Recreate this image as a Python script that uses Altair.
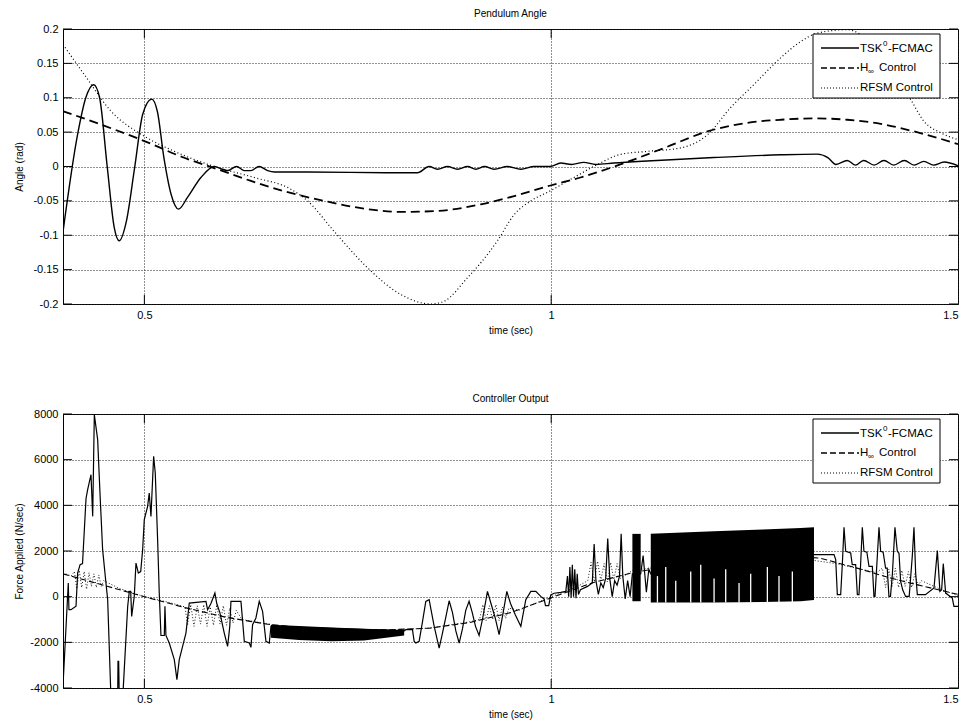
import altair as alt
import pandas as pd

FONT = "Liberation Sans"

# ---------------- Pendulum angle (rad) ----------------
tsk_angle = [(0.400, -0.095), (0.418, 0.047), (0.428, 0.100), (0.4377, 0.119), (0.445, 0.100),
             (0.4545, -0.002), (0.463, -0.089), (0.469, -0.108), (0.478, -0.079), (0.488, -0.002),
             (0.498, 0.076), (0.509, 0.098), (0.516, 0.080), (0.524, 0.013), (0.533, -0.041),
             (0.542, -0.062), (0.553, -0.045), (0.5695, -0.016), (0.586, 0.000), (0.596, -0.004),
             (0.602, -0.006), (0.6133, 0.000), (0.623, -0.006), (0.631, -0.006), (0.641, 0.000),
             (0.6515, -0.006), (0.66, -0.008), (0.70, -0.008), (0.80, -0.009), (0.8357, -0.009),
             (0.85, 0.000), (0.8603, -0.004), (0.8726, 0.000), (0.8849, -0.004), (0.8972, 0.000),
             (0.9074, -0.004), (0.918, 0.000), (0.9299, -0.004), (0.9463, 0.000), (0.9627, -0.004),
             (0.979, 0.000), (0.9983, 0.000), (1.0118, 0.005), (1.025, 0.003), (1.04, 0.006),
             (1.055, 0.003), (1.077, 0.005), (1.118, 0.008), (1.2, 0.013), (1.282, 0.017),
             (1.327, 0.018), (1.34, 0.013), (1.35, 0.003), (1.364, 0.0088), (1.374, 0.002),
             (1.384, 0.0088), (1.397, 0.002), (1.409, 0.0088), (1.421, 0.002), (1.434, 0.0088),
             (1.446, 0.002), (1.458, 0.0075), (1.470, 0.002), (1.483, 0.0065), (1.5, 0.001)]

hinf_angle = [(0.4, 0.0805), (0.4467, 0.061), (0.5, 0.037), (0.549, 0.0127), (0.59, -0.004),
              (0.631, -0.021), (0.672, -0.036), (0.721, -0.050), (0.774, -0.062), (0.815, -0.066),
              (0.856, -0.065), (0.9135, -0.055), (0.9545, -0.043), (0.998, -0.028), (1.036, -0.016),
              (1.085, 0.003), (1.139, 0.027), (1.192, 0.051), (1.241, 0.0635), (1.282, 0.068),
              (1.323, 0.070), (1.364, 0.068), (1.405, 0.062), (1.446, 0.051), (1.5, 0.0326)]

rfsm_angle = [(0.4, 0.1775), (0.426, 0.134), (0.459, 0.0805), (0.5, 0.044), (0.537, 0.022),
              (0.586, 0.0), (0.635, -0.016), (0.68, -0.033), (0.7006, -0.050), (0.733, -0.094),
              (0.774, -0.147), (0.815, -0.186), (0.852, -0.200), (0.8684, -0.196), (0.897, -0.162),
              (0.9135, -0.140), (0.934, -0.108), (0.9545, -0.070), (0.975, -0.050), (0.998, -0.036),
              (1.028, -0.016), (1.057, 0.003), (1.085, 0.0176), (1.118, 0.022), (1.159, 0.027),
              (1.192, 0.046), (1.22, 0.085), (1.249, 0.119), (1.282, 0.158), (1.307, 0.182),
              (1.327, 0.194), (1.364, 0.199), (1.405, 0.163), (1.4418, 0.0975), (1.458, 0.066),
              (1.479, 0.049), (1.5, 0.039)]

# ---------------- Controller output (N/sec) ----------------
tsk_force = [(0.400, -3900), (0.4065, 600), (0.4073, -570), (0.4098, -570), (0.416, -420),
             (0.418, 1034), (0.421, 1400), (0.424, 1450), (0.4283, 4300), (0.4303, 4686),
             (0.4344, 5343), (0.4365, 3517), (0.4385, 7971), (0.4426, 6877), (0.4455, 4500),
             (0.4487, 2058), (0.4528, 600), (0.4549, -131), (0.459, -4500), (0.4672, -4500),
             (0.4676, -2834), (0.4684, -2834), (0.4692, -4500), (0.4733, -4500), (0.4795, -425),
             (0.4815, 232), (0.4832, 232), (0.4844, -863), (0.4876, 13), (0.4897, 1472),
             (0.4926, 1034), (0.4955, 1100), (0.4979, 2058), (0.4999, 3372), (0.504, 3955),
             (0.506, 4539), (0.5081, 3517), (0.5114, 6145), (0.5134, 5414), (0.5163, 2496),
             (0.5183, 158), (0.5204, -1700), (0.5245, -1700), (0.5253, -425), (0.5265, -1700),
             (0.5306, -2030), (0.5368, -2759), (0.54, -3635), (0.5429, -2759), (0.547, -2177),
             (0.5511, -1594), (0.5552, -280), (0.5757, -206), (0.5777, -570), (0.5818, -300),
             (0.5867, 158), (0.589, -300), (0.5928, -700), (0.5982, -1594), (0.6023, -2177),
             (0.605, -1300), (0.6064, -206), (0.6187, -206), (0.6208, -1080), (0.6228, -1958),
             (0.629, -2030), (0.631, -2220), (0.633, -1226), (0.6371, -934), (0.6412, -206),
             (0.6453, -643), (0.6474, -1300), (0.6494, -1958), (0.6535, -2030), (0.6556, -1300),
             (0.8193, -1500), (0.8213, -1445), (0.8295, -1445), (0.8316, -1958), (0.8337, -2030),
             (0.8377, -1958), (0.8418, -1100), (0.8459, -206), (0.85, -131), (0.8562, -1300),
             (0.8623, -2250), (0.8664, -1600), (0.8705, -900), (0.8746, -180), (0.8787, -700),
             (0.8828, -1500), (0.8869, -2030), (0.891, -1400), (0.895, -600), (0.8991, -200),
             (0.903, -700), (0.907, -1300), (0.9114, -1700), (0.9155, -1000), (0.9217, 232),
             (0.926, -300), (0.931, -900), (0.936, -1664), (0.9405, -800), (0.9455, 232),
             (0.95, -300), (0.956, -800), (0.9627, -1300), (0.9688, -131), (0.975, 232),
             (0.9811, 232), (0.9872, 13), (0.9913, -100), (0.993, -390), (0.997, -390),
             (0.9995, 80), (1.0036, 150), (1.0118, 190), (1.018, 232), (1.02, 900),
             (1.0215, 0), (1.023, 1300), (1.0245, -50), (1.026, 1400), (1.0275, 0),
             (1.029, 1200), (1.0305, -70), (1.032, 1000), (1.0335, 100), (1.036, 300),
             (1.0446, 450), (1.0505, 600), (1.0528, 2300), (1.055, 700), (1.058, 100),
             (1.061, 600), (1.064, 400), (1.067, 800), (1.0695, 2550), (1.072, 800),
             (1.075, 0), (1.078, 700), (1.081, 500), (1.084, 900), (1.086, 2750),
             (1.088, 900), (1.091, -100), (1.094, 700), (1.097, 0), (1.0998, 1000),
             (1.11, 1000), (1.113, 1800), (1.117, 200), (1.12, 1200), (1.1224, 1000),
             (1.323, 1840), (1.3476, 1840), (1.3497, 1620), (1.3517, 88), (1.3558, 88),
             (1.3578, 1400), (1.3599, 3035), (1.362, 1985), (1.3681, 1910), (1.37, 1402),
             (1.3742, 1402), (1.3763, 88), (1.3783, 88), (1.3803, 1402), (1.3824, 3035),
             (1.3844, 1985), (1.388, 1950), (1.3906, 1327), (1.3947, 1327), (1.3967, 13),
             (1.398, 13), (1.4, 1253), (1.4029, 3035), (1.4049, 1985), (1.408, 1950),
             (1.411, 1253), (1.413, 1253), (1.4151, 13), (1.417, 13), (1.4193, 963),
             (1.4225, 3035), (1.4254, 1985), (1.4275, 1900), (1.4295, 670), (1.432, 300),
             (1.4356, 13), (1.44, 13), (1.4438, 1765), (1.4459, 3035), (1.448, 1000),
             (1.45, 88), (1.46, 88), (1.4705, 377), (1.4746, 2015), (1.4778, 232),
             (1.4799, 300), (1.4819, 1445), (1.4848, 158), (1.493, -61), (1.495, -425),
             (1.5, -425)]

# dense chattering blocks of the TSK output: (block, time, low, high)
tsk_chatter = [("A", 0.6556, -1800, -1226), ("A", 0.69, -1900, -1280), ("A", 0.73, -1958, -1350),
               ("A", 0.77, -1920, -1400), ("A", 0.8193, -1700, -1460),
               ("C", 1.0998, -200, 2750), ("C", 1.11, -200, 2750),
               ("D", 1.1224, -250, 2760), ("D", 1.2, -250, 2860), ("D", 1.26, -230, 2940),
               ("D", 1.3066, -200, 3006), ("D", 1.323, -150, 3035)]

# white gaps inside the large block: (time, top of gap)
chatter_gaps = [(1.1306, 900), (1.1408, 1300), (1.1531, 700), (1.1715, 1100), (1.1838, 1400),
                (1.2002, 800), (1.2145, 1200), (1.2309, 600), (1.2452, 1000), (1.2657, 1300),
                (1.28, 900), (1.2964, 1100)]

hinf_force = [(0.4, 1000), (0.45, 500), (0.5, 0), (0.55, -480), (0.6, -900), (0.65, -1200),
              (0.7, -1380), (0.75, -1460), (0.8, -1450), (0.85, -1380), (0.9, -1130), (0.95, -700),
              (1.0, -50), (1.05, 600), (1.1, 1050), (1.15, 1350), (1.2, 1550), (1.25, 1680),
              (1.3, 1750), (1.33, 1690), (1.376, 1250), (1.417, 815), (1.458, 450), (1.5, 100)]

rfsm_force = [(0.4, 1050), (0.41, 900), (0.414, 1100), (0.417, 350), (0.42, 1150), (0.423, 400),
              (0.426, 1100), (0.429, 330), (0.432, 1050), (0.435, 450), (0.438, 1000), (0.441, 400),
              (0.444, 950), (0.447, 450), (0.45, 700), (0.47, 350), (0.5, 0), (0.53, -250),
              (0.55, -450), (0.553, -1250), (0.557, -350), (0.561, -1300), (0.565, -400),
              (0.569, -1200), (0.573, -350), (0.577, -1300), (0.581, -450), (0.585, -1250),
              (0.589, -350), (0.593, -1200), (0.597, -400), (0.601, -1250), (0.605, -500),
              (0.609, -1150), (0.613, -600), (0.62, -1000), (0.66, -1250), (0.7, -1400),
              (0.75, -1480), (0.8, -1460), (0.85, -1380), (0.9, -1100), (0.912, -1000),
              (0.916, -350), (0.92, -1050), (0.924, -400), (0.928, -1000), (0.932, -350),
              (0.936, -1050), (0.94, -450), (0.944, -950), (0.948, -500), (0.96, -600),
              (0.98, -300), (1.0, 0), (1.03, 400), (1.045, 700), (1.049, 1500), (1.053, 650),
              (1.057, 1550), (1.061, 700), (1.065, 1450), (1.069, 650), (1.073, 1500),
              (1.077, 750), (1.081, 1450), (1.085, 800), (1.1, 1150), (1.2, 1600), (1.3, 1700),
              (1.35, 1450), (1.4, 1050), (1.407, 1250), (1.411, 400), (1.415, 1200), (1.419, 450),
              (1.423, 1250), (1.427, 400), (1.431, 1150), (1.435, 450), (1.439, 1100),
              (1.443, 400), (1.447, 1000), (1.451, 500), (1.455, 700), (1.48, 300), (1.5, 50)]

# ---------------- axes ----------------
x_domain = [0.4, 1.5]
x_ticks = [0.5, 1, 1.5]
angle_domain = [-0.2, 0.2]
angle_ticks = [-0.2, -0.15, -0.1, -0.05, 0, 0.05, 0.1, 0.15, 0.2]
force_domain = [-4000, 8000]
force_ticks = [-4000, -2000, 0, 2000, 4000, 6000, 8000]
legend_names = ["TSK⁰-FCMAC", "H∞ Control", "RFSM Control"]

W = 895
H_TOP = 275
H_BOT = 274


def to_df(pairs):
    return pd.DataFrame(pairs, columns=["t", "v"])


def xenc(field="t"):
    return alt.X(f"{field}:Q",
                 scale=alt.Scale(domain=x_domain, nice=False, zero=False),
                 axis=alt.Axis(values=x_ticks, labelExpr="datum.value + ''", title="time (sec)",
                               grid=True, gridDash=[1, 2], gridColor="#222", gridWidth=1,
                               ticks=False, domain=False, labelPadding=5, labelFontSize=11,
                               labelFont=FONT, labelColor="black", titleFont=FONT,
                               titleFontSize=10, titleFontWeight="normal", titleColor="black",
                               titleY=26, titleBaseline="middle"))


def yenc(field, domain, ticks, title, h):
    return alt.Y(f"{field}:Q",
                 scale=alt.Scale(domain=domain, nice=False, zero=False),
                 axis=alt.Axis(values=ticks, labelExpr="datum.value + ''", title=title,
                               grid=True, gridDash=[1, 2], gridColor="#222", gridWidth=1,
                               ticks=False, domain=False, labelPadding=5, labelFontSize=11,
                               labelFont=FONT, labelColor="black", titleFont=FONT,
                               titleFontSize=10, titleFontWeight="normal", titleColor="black",
                               titleX=-44, titleY=h / 2, titleBaseline="middle"))


def legend_layers():
    one = pd.DataFrame({"k": [0]})
    base = alt.Chart(one)
    layers = [
        base.mark_rect(fill="white", stroke="black", strokeWidth=1).encode(
            x=alt.value(750), x2=alt.value(877), y=alt.value(5), y2=alt.value(69)),
        base.mark_rule(color="black", strokeWidth=1.3).encode(
            x=alt.value(758), x2=alt.value(796), y=alt.value(19)),
        base.mark_rule(color="black", strokeWidth=1.3, strokeDash=[6, 3]).encode(
            x=alt.value(758), x2=alt.value(796), y=alt.value(39)),
        base.mark_rule(color="black", strokeWidth=1, strokeDash=[1, 2]).encode(
            x=alt.value(758), x2=alt.value(796), y=alt.value(59)),
    ]
    txt = dict(font=FONT, fontSize=11.5, align="left", baseline="middle", color="black")
    layers += [
        base.mark_text(**txt).encode(x=alt.value(797), y=alt.value(20), text=alt.value("TSK")),
        base.mark_text(**{**txt, "fontSize": 8}).encode(x=alt.value(820), y=alt.value(15), text=alt.value("0")),
        base.mark_text(**txt).encode(x=alt.value(825), y=alt.value(20), text=alt.value("-FCMAC")),
        base.mark_text(**txt).encode(x=alt.value(797), y=alt.value(39), text=alt.value("H")),
        base.mark_text(**{**txt, "fontSize": 8}).encode(x=alt.value(805), y=alt.value(43), text=alt.value("∞")),
        base.mark_text(**txt).encode(x=alt.value(816), y=alt.value(39), text=alt.value("Control")),
        base.mark_text(**txt).encode(x=alt.value(797), y=alt.value(59), text=alt.value("RFSM Control")),
    ]
    return layers


def tick_layers(ydomain, yticks, ytitle, h):
    xt = alt.Chart(pd.DataFrame({"t": [0.5, 1.0]}))
    yt = alt.Chart(pd.DataFrame({"v": yticks}))
    y = yenc("v", ydomain, yticks, ytitle, h)
    return [
        xt.mark_rule(color="black").encode(x=xenc(), y=alt.value(0), y2=alt.value(9)),
        xt.mark_rule(color="black").encode(x=xenc(), y=alt.value(h), y2=alt.value(h - 9)),
        yt.mark_rule(color="black").encode(y=y, x=alt.value(0), x2=alt.value(9)),
        yt.mark_rule(color="black").encode(y=y, x=alt.value(W - 9), x2=alt.value(W)),
    ]


# ---------------- top panel ----------------
ya = yenc("v", angle_domain, angle_ticks, "Angle (rad)", H_TOP)
top_layers = [
    alt.Chart(to_df(rfsm_angle)).mark_line(color="black", strokeWidth=1.2, strokeDash=[1, 2.5],
                                           interpolate="monotone", clip=True).encode(x=xenc(), y=ya),
    alt.Chart(to_df(hinf_angle)).mark_line(color="black", strokeWidth=1.8, strokeDash=[9, 5],
                                           interpolate="monotone", clip=True).encode(x=xenc(), y=ya),
    alt.Chart(to_df(tsk_angle)).mark_line(color="black", strokeWidth=1.4,
                                          interpolate="monotone", clip=True).encode(x=xenc(), y=ya),
] + tick_layers(angle_domain, angle_ticks, "Angle (rad)", H_TOP) + legend_layers()

top = alt.layer(*top_layers).properties(
    width=W, height=H_TOP,
    title=alt.TitleParams("Pendulum Angle", font=FONT, fontSize=10, fontWeight="normal",
                          color="black", offset=4))

# ---------------- bottom panel ----------------
yf = yenc("v", force_domain, force_ticks, "Force Applied (N/sec)", H_BOT)
chatter_df = pd.DataFrame(tsk_chatter, columns=["block", "t", "lo", "hi"])
gaps_df = pd.DataFrame(chatter_gaps, columns=["t", "top"])
gaps_df["bottom"] = -260

bot_layers = [
    alt.Chart(to_df(rfsm_force)).mark_line(color="black", strokeWidth=0.9, strokeDash=[1, 2],
                                           clip=True).encode(x=xenc(), y=yf),
    alt.Chart(to_df(hinf_force)).mark_line(color="black", strokeWidth=1.1, strokeDash=[6, 3],
                                           clip=True).encode(x=xenc(), y=yf),
    alt.Chart(to_df(tsk_force)).mark_line(color="black", strokeWidth=1.2,
                                          clip=True).encode(x=xenc(), y=yf),
    alt.Chart(chatter_df).mark_area(color="black", opacity=1, clip=True).encode(
        x=xenc(), y=yenc("lo", force_domain, force_ticks, "Force Applied (N/sec)", H_BOT),
        y2="hi:Q", detail="block:N"),
    alt.Chart(gaps_df).mark_rule(color="white", strokeWidth=1.3, clip=True).encode(
        x=xenc(), y=yenc("bottom", force_domain, force_ticks, "Force Applied (N/sec)", H_BOT),
        y2="top:Q"),
] + tick_layers(force_domain, force_ticks, "Force Applied (N/sec)", H_BOT) + legend_layers()

bottom = alt.layer(*bot_layers).properties(
    width=W, height=H_BOT,
    title=alt.TitleParams("Controller Output", font=FONT, fontSize=10, fontWeight="normal",
                          color="black", offset=4))

chart = alt.vconcat(top, bottom, spacing=110, bounds="flush").properties(
    padding={"left": 5, "top": 0, "right": 0, "bottom": 0},
    background="white",
).configure_view(stroke="black", strokeWidth=1)

chart.save("out.html", embed_options={"renderer": "svg", "actions": False})
